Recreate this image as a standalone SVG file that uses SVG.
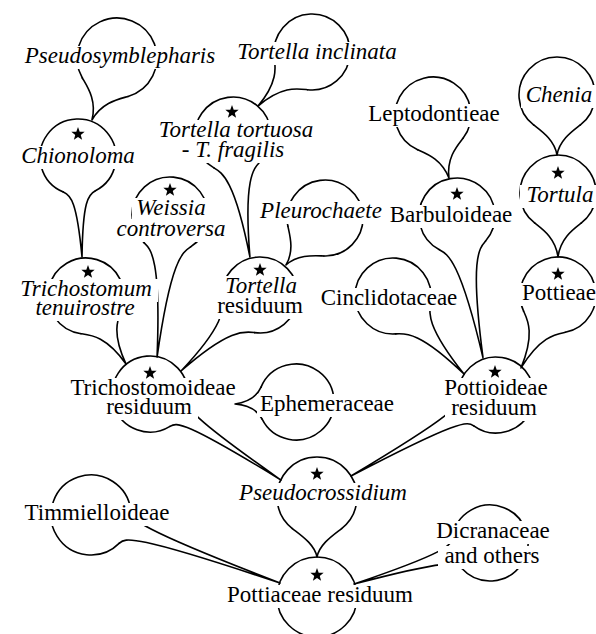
<svg xmlns="http://www.w3.org/2000/svg" width="596" height="634" viewBox="0 0 596 634">
<style>
.o{fill:none;stroke:#000;stroke-width:1.6;stroke-linejoin:round;stroke-linecap:round}
.bg{fill:#fff}
.t{font-family:"Liberation Serif","Times New Roman",serif;font-size:23px;fill:#000;text-anchor:middle}
.i{font-style:italic}
.s{fill:#000}
</style>
<defs>
<path id="a25" d="M-16.06,34.44 A38,38 0 1 1 16.06,34.44"/>
<path id="a38" d="M-23.4,29.94 A38,38 0 1 1 23.4,29.94"/>
<path id="b25" d="M-16.9,36.25 A40,40 0 1 1 16.9,36.25"/>
<path id="b38" d="M-24.63,31.52 A40,40 0 1 1 24.63,31.52"/>
<path id="star" d="M0,-7 L1.7,-2.35 L6.66,-2.16 L2.76,0.9 L4.11,5.66 L0,2.9 L-4.11,5.66 L-2.76,0.9 L-6.66,-2.16 L-1.7,-2.35 Z"/>
</defs>
<rect width="596" height="634" fill="#fff"/>

<g id="connectors" class="o">
<path transform="translate(117,58) rotate(22)" d="M24.63,31.52 C16.75,37.68 2.5,47 0,66.9 C-2.5,47 -16.75,37.68 -24.63,31.52"/>
<path transform="translate(78,157) rotate(-2.3)" d="M16.06,34.44 C8.81,37.82 3,44 0,100.1 C-3,44 -8.81,37.82 -16.06,34.44"/>
<path transform="translate(312,52) rotate(45)" d="M23.4,29.94 C15.52,36.1 2.5,45 0,76.4 C-2.5,45 -15.52,36.1 -23.4,29.94"/>
<path transform="translate(233,135) rotate(-7.9)" d="M23.4,29.94 C15.52,36.1 4.5,45 0,123.2 C-4.5,45 -15.52,36.1 -23.4,29.94"/>
<path transform="translate(170,215) rotate(5.2)" d="M23.4,29.94 C15.52,36.1 5,45 0,142.6 C-5,45 -15.52,36.1 -23.4,29.94"/>
<path transform="translate(86,296) rotate(-30.5)" d="M23.4,29.94 C15.52,36.1 3,45 0,78.9 C-3,45 -15.52,36.1 -23.4,29.94"/>
<path transform="translate(325,218) rotate(39.7)" d="M23.4,29.94 C15.52,36.1 2.5,45 0,61.1 C-2.5,45 -15.52,36.1 -23.4,29.94"/>
<path transform="translate(260,295) rotate(46.1)" d="M23.4,29.94 C15.52,36.1 3,45 0,109.6 C-3,45 -15.52,36.1 -23.4,29.94"/>
<path transform="translate(150,394) rotate(-56.7)" d="M16.06,34.44 C8.81,37.82 3.5,44 0,156.7 C-3.5,44 -8.81,37.82 -16.06,34.44"/>
<path transform="translate(296,402) rotate(88.1)" d="M16.06,34.44 C8.81,37.82 2,44 0,61 C-2,44 -8.81,37.82 -16.06,34.44"/>
<path transform="translate(433,115) rotate(-14.2)" d="M23.4,29.94 C15.52,36.1 2.5,45 0,65 C-2.5,45 -15.52,36.1 -23.4,29.94"/>
<path transform="translate(457,216) rotate(-10.4)" d="M23.4,29.94 C15.52,36.1 5,45 0,144.4 C-5,45 -15.52,36.1 -23.4,29.94"/>
<path transform="translate(557,95)" d="M23.4,29.94 C15.52,36.1 2.5,45 0,60 C-2.5,45 -15.52,36.1 -23.4,29.94"/>
<path transform="translate(558,193)" d="M23.4,29.94 C15.52,36.1 2.5,45 0,64 C-2.5,45 -15.52,36.1 -23.4,29.94"/>
<path transform="translate(558,295) rotate(26.9)" d="M23.4,29.94 C15.52,36.1 3,45 0,81.8 C-3,45 -15.52,36.1 -23.4,29.94"/>
<path transform="translate(393,296) rotate(-42.3)" d="M23.4,29.94 C15.52,36.1 4,45 0,105.5 C-4,45 -15.52,36.1 -23.4,29.94"/>
<path transform="translate(496,395) rotate(60.8)" d="M16.06,34.44 C8.81,37.82 3.5,44 0,166.1 C-3.5,44 -8.81,37.82 -16.06,34.44"/>
<path transform="translate(317,497)" d="M24.63,31.52 C16.75,37.68 2.5,47 0,60 C-2.5,47 -16.75,37.68 -24.63,31.52"/>
<path transform="translate(91,515) rotate(-70.2)" d="M16.9,36.25 C9.65,39.63 3.5,46 0,200.9 C-3.5,46 -9.65,39.63 -16.9,36.25"/>
<path transform="translate(490,543) rotate(73.2)" d="M16.06,34.44 C8.81,37.82 3.5,44 0,142 C-3.5,44 -8.81,37.82 -16.06,34.44"/>
</g>

<g id="n-pseudosymblepharis">
<use href="#b38" class="o" transform="translate(117,58) rotate(22)"/>
<rect class="bg" x="20" y="46" width="200" height="23"/>
<text class="t i" x="120" y="63">Pseudosymblepharis</text>
</g>
<g id="n-chionoloma">
<use href="#a25" class="o" transform="translate(78,157) rotate(-2.3)"/>
<rect class="bg" x="13" y="146" width="130" height="23"/>
<use href="#star" class="s" x="78" y="134"/>
<text class="t i" x="78" y="163">Chionoloma</text>
</g>
<g id="n-tortella-inclinata">
<use href="#a38" class="o" transform="translate(312,52) rotate(45)"/>
<rect class="bg" x="232" y="42" width="171" height="23"/>
<text class="t i" x="317" y="59">Tortella inclinata</text>
</g>
<g id="n-tortella-tortuosa">
<use href="#a38" class="o" transform="translate(233,135) rotate(-7.9)"/>
<rect class="bg" x="152" y="120" width="168" height="23"/>
<rect class="bg" x="175" y="140" width="117" height="23"/>
<use href="#star" class="s" x="232" y="112"/>
<text class="t i" x="236" y="137">Tortella tortuosa</text>
<text class="t i" x="233" y="157">- T. fragilis</text>
</g>
<g id="n-weissia">
<use href="#a38" class="o" transform="translate(170,215) rotate(5.2)"/>
<rect class="bg" x="132" y="198" width="78" height="23"/>
<rect class="bg" x="110" y="219" width="122" height="23"/>
<use href="#star" class="s" x="170" y="190"/>
<text class="t i" x="171" y="215">Weissia</text>
<text class="t i" x="171" y="236">controversa</text>
</g>
<g id="n-trichostomum">
<use href="#a38" class="o" transform="translate(86,296) rotate(-30.5)"/>
<rect class="bg" x="12" y="279" width="146" height="23"/>
<rect class="bg" x="28" y="298" width="114" height="23"/>
<use href="#star" class="s" x="88" y="272"/>
<text class="t i" x="86" y="296">Trichostomum</text>
<text class="t i" x="85" y="315">tenuirostre</text>
</g>
<g id="n-pleurochaete">
<use href="#a38" class="o" transform="translate(325,218) rotate(39.7)"/>
<rect class="bg" x="255" y="201" width="132" height="23"/>
<text class="t i" x="321" y="218">Pleurochaete</text>
</g>
<g id="n-tortella-residuum">
<use href="#a38" class="o" transform="translate(260,295) rotate(46.1)"/>
<rect class="bg" x="220" y="276" width="82" height="23"/>
<rect class="bg" x="213" y="296" width="95" height="23"/>
<use href="#star" class="s" x="260" y="270"/>
<text class="t i" x="261" y="293">Tortella</text>
<text class="t" x="260" y="313">residuum</text>
</g>
<g id="n-trichostomoideae">
<use href="#a25" class="o" transform="translate(150,394) rotate(-56.7)"/>
<rect class="bg" x="63" y="378" width="180" height="23"/>
<rect class="bg" x="100" y="397" width="98" height="23"/>
<use href="#star" class="s" x="150" y="373"/>
<text class="t" x="153" y="395">Trichostomoideae</text>
<text class="t" x="149" y="414">residuum</text>
</g>
<g id="n-ephemeraceae">
<use href="#a25" class="o" transform="translate(296,402) rotate(88.1)"/>
<rect class="bg" x="257" y="394" width="143" height="23"/>
<text class="t" x="327" y="411">Ephemeraceae</text>
</g>
<g id="n-leptodontieae">
<use href="#a38" class="o" transform="translate(433,115) rotate(-14.2)"/>
<rect class="bg" x="361" y="104" width="146" height="23"/>
<text class="t" x="434" y="121">Leptodontieae</text>
</g>
<g id="n-barbuloideae">
<use href="#a38" class="o" transform="translate(457,216) rotate(-10.4)"/>
<rect class="bg" x="385" y="205" width="132" height="23"/>
<use href="#star" class="s" x="457" y="194"/>
<text class="t" x="451" y="222">Barbuloideae</text>
</g>
<g id="n-chenia">
<use href="#a38" class="o" transform="translate(557,95)"/>
<rect class="bg" x="521" y="85" width="76" height="23"/>
<text class="t i" x="559" y="102">Chenia</text>
</g>
<g id="n-tortula">
<use href="#a38" class="o" transform="translate(558,193)"/>
<rect class="bg" x="520" y="185" width="80" height="23"/>
<use href="#star" class="s" x="558" y="173"/>
<text class="t i" x="560" y="202">Tortula</text>
</g>
<g id="n-pottieae">
<use href="#a38" class="o" transform="translate(558,295) rotate(26.9)"/>
<rect class="bg" x="517" y="283" width="83" height="23"/>
<use href="#star" class="s" x="558" y="274"/>
<text class="t" x="559" y="300">Pottieae</text>
</g>
<g id="n-cinclidotaceae">
<use href="#a38" class="o" transform="translate(393,296) rotate(-42.3)"/>
<rect class="bg" x="315" y="288" width="147" height="23"/>
<text class="t" x="389" y="305">Cinclidotaceae</text>
</g>
<g id="n-pottioideae">
<use href="#a25" class="o" transform="translate(496,395) rotate(60.8)"/>
<rect class="bg" x="440" y="378" width="113" height="23"/>
<rect class="bg" x="445" y="398" width="97" height="23"/>
<use href="#star" class="s" x="495" y="372"/>
<text class="t" x="496" y="395">Pottioideae</text>
<text class="t" x="494" y="415">residuum</text>
</g>
<g id="n-pseudocrossidium">
<use href="#b38" class="o" transform="translate(317,497)"/>
<rect class="bg" x="233" y="483" width="180" height="23"/>
<use href="#star" class="s" x="317" y="474"/>
<text class="t i" x="323" y="500">Pseudocrossidium</text>
</g>
<g id="n-pottiaceae">
<circle class="o" cx="317" cy="597" r="40"/>
<rect class="bg" x="220" y="585" width="200" height="23"/>
<use href="#star" class="s" x="317" y="575"/>
<text class="t" x="320" y="602">Pottiaceae residuum</text>
</g>
<g id="n-timmielloideae">
<use href="#b25" class="o" transform="translate(91,515) rotate(-70.2)"/>
<rect class="bg" x="20" y="503" width="155" height="23"/>
<text class="t" x="97" y="520">Timmielloideae</text>
</g>
<g id="n-dicranaceae">
<use href="#a25" class="o" transform="translate(490,543) rotate(73.2)"/>
<rect class="bg" x="432" y="521" width="123" height="23"/>
<rect class="bg" x="438" y="546" width="109" height="23"/>
<text class="t" x="493" y="538">Dicranaceae</text>
<text class="t" x="492" y="563">and others</text>
</g>
</svg>
